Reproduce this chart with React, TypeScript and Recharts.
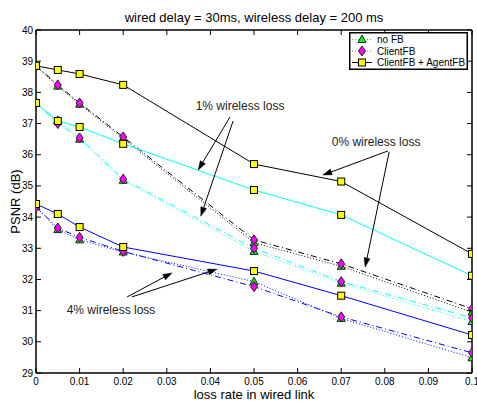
import React from 'react';
import { LineChart, Line, XAxis, YAxis, Legend, ReferenceLine, ReferenceDot } from 'recharts';

const FONT = '"Liberation Sans", Arial, Helvetica, sans-serif';

// ---- data ----
const lossRates = [0, 0.005, 0.01, 0.02, 0.05, 0.07, 0.1];

// 0% wireless loss (black)
const agentFB0 = [38.85, 38.72, 38.59, 38.24, 35.7, 35.14, 32.82];
const clientFB0 = [38.85, 38.24, 37.66, 36.57, 33.27, 32.5, 31.06];
const noFB0 = [38.85, 38.2, 37.62, 36.52, 33.18, 32.42, 30.95];
// 1% wireless loss (cyan)
const agentFB1 = [37.66, 37.08, 36.89, 36.35, 34.87, 34.07, 32.12];
const clientFB1 = [37.66, 37.0, 36.54, 35.22, 33.0, 31.93, 30.77];
const noFB1 = [37.66, 37.1, 36.5, 35.18, 32.9, 31.88, 30.65];
// 4% wireless loss (blue)
const agentFB4 = [34.42, 34.1, 33.68, 33.04, 32.27, 31.48, 30.22];
const clientFB4 = [34.33, 33.65, 33.35, 32.9, 31.77, 30.8, 29.65];
const noFB4 = [34.33, 33.6, 33.27, 32.88, 31.93, 30.75, 29.49];

const xTicks = [0, 0.01, 0.02, 0.03, 0.04, 0.05, 0.06, 0.07, 0.08, 0.09, 0.1];
const yTicks = [29, 30, 31, 32, 33, 34, 35, 36, 37, 38, 39, 40];

const titleText = 'wired delay = 30ms, wireless delay = 200 ms';
const xLabel = 'loss rate in wired link';
const yLabel = 'PSNR (dB)';
const legendNames = ['no FB', 'ClientFB', 'ClientFB + AgentFB'];

// annotations (data coordinates)
const annotationTexts = ['1% wireless loss', '0% wireless loss', '4% wireless loss'];
const annotationX = [0.0468, 0.078, 0.0172];
const annotationY = [37.56, 36.41, 31.02];
// arrows: [x1, y1, x2(head), y2(head)]
const arrowSegments = [
  [0.0445, 37.21, 0.0372, 35.51],
  [0.0452, 37.08, 0.0378, 34.03],
  [0.0807, 36.12, 0.0658, 35.35],
  [0.081, 36.09, 0.0755, 32.4],
  [0.0209, 31.44, 0.0312, 32.21],
  [0.022, 31.44, 0.0415, 32.33],
];

const data = lossRates.map((x, i) => ({
  x,
  agentFB0: agentFB0[i],
  clientFB0: clientFB0[i],
  noFB0: noFB0[i],
  agentFB1: agentFB1[i],
  clientFB1: clientFB1[i],
  noFB1: noFB1[i],
  agentFB4: agentFB4[i],
  clientFB4: clientFB4[i],
  noFB4: noFB4[i],
}));

// ---- markers ----
const SquareMark = ({ cx, cy }: any) => (
  <rect x={cx - 3.5} y={cy - 3.5} width={7} height={7} fill="#ffff00" stroke="#000" strokeWidth={1} />
);
const DiamondMark = ({ cx, cy }: any) => (
  <polygon
    points={`${cx},${cy - 5} ${cx + 3.5},${cy} ${cx},${cy + 5} ${cx - 3.5},${cy}`}
    fill="#ff00ff"
    stroke="#222"
    strokeWidth={1}
  />
);
const TriangleMark = ({ cx, cy }: any) => (
  <polygon
    points={`${cx},${cy - 4.5} ${cx + 4},${cy + 3} ${cx - 4},${cy + 3}`}
    fill="#00ff00"
    stroke="#222"
    strokeWidth={1}
  />
);

const markerFor: Record<string, any> = {
  tri: TriangleMark,
  dia: DiamondMark,
  sq: SquareMark,
};

const seriesDefs = [
  { key: 'noFB0', color: '#000000', dash: '1 2', marker: 'tri' },
  { key: 'noFB1', color: '#00ffff', dash: '1 2', marker: 'tri' },
  { key: 'noFB4', color: '#0000ff', dash: '1 2', marker: 'tri' },
  { key: 'clientFB0', color: '#000000', dash: '6 3 1 3', marker: 'dia' },
  { key: 'clientFB1', color: '#00ffff', dash: '6 3 1 3', marker: 'dia' },
  { key: 'clientFB4', color: '#0000ff', dash: '6 3 1 3', marker: 'dia' },
  { key: 'agentFB0', color: '#000000', dash: undefined, marker: 'sq' },
  { key: 'agentFB1', color: '#00ffff', dash: undefined, marker: 'sq' },
  { key: 'agentFB4', color: '#0000ff', dash: undefined, marker: 'sq' },
];

// ---- ticks ----
const BottomTick = (p: any) => (
  <g>
    <line x1={p.x} y1={p.y} x2={p.x} y2={p.y - 5} stroke="#000" strokeWidth={1} />
    <text x={p.x} y={p.y + 12} textAnchor="middle" fontSize={10} fontFamily={FONT} fill="#000">
      {String(p.payload.value)}
    </text>
  </g>
);
const TopTick = (p: any) => (
  <line x1={p.x} y1={p.y} x2={p.x} y2={p.y + 5} stroke="#000" strokeWidth={1} />
);
const LeftTick = (p: any) => (
  <g>
    <line x1={p.x} y1={p.y} x2={p.x + 5} y2={p.y} stroke="#000" strokeWidth={1} />
    <text x={p.x - 3} y={p.y + 3.5} textAnchor="end" fontSize={10} fontFamily={FONT} fill="#000">
      {String(p.payload.value)}
    </text>
  </g>
);
const RightTick = (p: any) => (
  <line x1={p.x} y1={p.y} x2={p.x - 5} y2={p.y} stroke="#000" strokeWidth={1} />
);

// ---- arrow shape ----
const ArrowShape = (p: any) => {
  const { x1, y1, x2, y2 } = p;
  const dx = x2 - x1;
  const dy = y2 - y1;
  const len = Math.sqrt(dx * dx + dy * dy) || 1;
  const ux = dx / len;
  const uy = dy / len;
  const hl = 9;
  const hw = 3;
  const bx = x2 - ux * hl;
  const by = y2 - uy * hl;
  const pts = `${x2},${y2} ${bx - uy * hw},${by + ux * hw} ${bx + uy * hw},${by - ux * hw}`;
  return (
    <g>
      <line x1={x1} y1={y1} x2={bx} y2={by} stroke="#000" strokeWidth={1} />
      <polygon points={pts} fill="#000" stroke="#000" strokeWidth={0.5} />
    </g>
  );
};

const AnnotationText = (text: string) => (p: any) => (
  <text x={p.cx} y={p.cy + 4} textAnchor="middle" fontSize={12} fontFamily={FONT} fill="#222">
    {text}
  </text>
);

// ---- legend ----
const LegendBox = () => {
  const rows = [7.5, 19, 30.5];
  return (
    <svg width={119} height={38} style={{ display: 'block' }}>
      <rect x={0.75} y={0.75} width={117.5} height={36.5} fill="#fff" stroke="#000" strokeWidth={1.5} />
      {legendNames.map((name, i) => {
        const y = rows[i];
        const M = markerFor[['tri', 'dia', 'sq'][i]];
        return (
          <g key={name}>
            <line
              x1={3}
              y1={y}
              x2={23}
              y2={y}
              stroke={i === 2 ? '#000' : '#888'}
              strokeWidth={1}
              strokeDasharray={i === 2 ? undefined : '1 2'}
            />
            <M cx={13} cy={y} />
            <text x={28} y={y + 3.5} fontSize={10} fontFamily={FONT} fill="#000">
              {name}
            </text>
          </g>
        );
      })}
    </svg>
  );
};

export default function App() {
  return (
    <div style={{ position: 'absolute', left: 0, top: 0, background: '#fff' }}>
      <LineChart
        width={477}
        height={402}
        data={data}
        margin={{ top: 29, right: 0, bottom: 0, left: 0 }}
        style={{ fontFamily: FONT }}
      >
        <XAxis
          dataKey="x"
          type="number"
          domain={[0, 0.1]}
          ticks={xTicks}
          allowDataOverflow
          height={29}
          tickSize={0}
          tickMargin={0}
          tickLine={false}
          axisLine={{ stroke: '#000', strokeWidth: 1.5 }}
          tick={BottomTick}
          interval={0}
          label={{ value: xLabel, position: 'insideBottom', offset: 3, fontSize: 13, fill: '#000', fontFamily: FONT }}
        />
        <XAxis
          xAxisId="top"
          orientation="top"
          dataKey="x"
          type="number"
          domain={[0, 0.1]}
          ticks={xTicks}
          allowDataOverflow
          height={1}
          tickSize={0}
          tickMargin={0}
          tickLine={false}
          axisLine={{ stroke: '#000', strokeWidth: 1.5 }}
          tick={TopTick}
          interval={0}
          label={{ value: titleText, position: 'top', offset: 7, fontSize: 13, fill: '#000', fontFamily: FONT }}
        />
        <YAxis
          type="number"
          domain={[29, 40]}
          ticks={yTicks}
          allowDataOverflow
          width={36}
          tickSize={0}
          tickMargin={0}
          tickLine={false}
          axisLine={{ stroke: '#000', strokeWidth: 1.5 }}
          tick={LeftTick}
          interval={0}
          label={{ value: yLabel, angle: -90, position: 'center', dx: -3, fontSize: 13, fill: '#000', fontFamily: FONT }}
        />
        <YAxis
          yAxisId="right"
          orientation="right"
          type="number"
          domain={[29, 40]}
          ticks={yTicks}
          allowDataOverflow
          width={5}
          tickSize={0}
          tickMargin={0}
          tickLine={false}
          axisLine={{ stroke: '#000', strokeWidth: 1.5 }}
          tick={RightTick}
          interval={0}
        />
        {seriesDefs.map((s) => {
          const M = markerFor[s.marker];
          return (
            <Line
              key={s.key}
              dataKey={s.key}
              type="linear"
              stroke={s.color}
              strokeWidth={1}
              strokeDasharray={s.dash}
              isAnimationActive={false}
              activeDot={false}
              dot={(p: any) => <M key={`${s.key}-${p.index}`} cx={p.cx} cy={p.cy} />}
            />
          );
        })}
        {arrowSegments.map((a, i) => (
          <ReferenceLine
            key={`arrow-${i}`}
            segment={[
              { x: a[0], y: a[1] },
              { x: a[2], y: a[3] },
            ]}
            ifOverflow="visible"
            shape={ArrowShape}
          />
        ))}
        {annotationTexts.map((t, i) => (
          <ReferenceDot
            key={`ann-${i}`}
            x={annotationX[i]}
            y={annotationY[i]}
            r={0}
            ifOverflow="visible"
            shape={AnnotationText(t)}
          />
        ))}
        <Legend
          layout="vertical"
          align="center"
          verticalAlign="middle"
          wrapperStyle={{ left: 349, top: 32, width: 119, height: 38 }}
          content={() => <LegendBox />}
        />
      </LineChart>
    </div>
  );
}
